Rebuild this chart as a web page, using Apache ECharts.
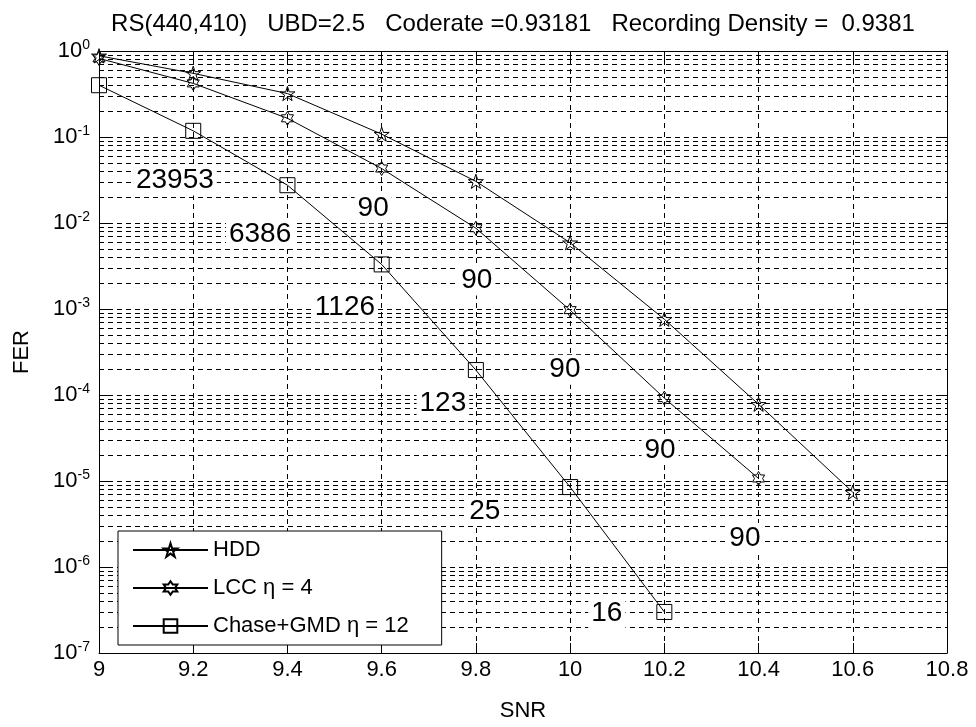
<!DOCTYPE html>
<html>
<head>
<meta charset="utf-8">
<script src="https://cdn.jsdelivr.net/npm/echarts@6/dist/echarts.min.js"></script>
<style>
html,body{margin:0;padding:0;background:#fff;}
#chart{width:976px;height:727px;}
</style>
</head>
<body>
<div id="chart"></div>
<script>
// ---- data ----
const snr = [9, 9.2, 9.4, 9.6, 9.8, 10, 10.2, 10.4, 10.6];
const ferHDD = [0.88, 0.55, 0.32, 0.108, 0.0305, 0.0059, 7.6e-4, 7.8e-5, 7.4e-6];
const ferLCC = [0.82, 0.42, 0.165, 0.043, 0.0087, 9.7e-4, 9.2e-5, 1.07e-5];
const ferChase = [0.40, 0.118, 0.0275, 0.0033, 1.95e-4, 8.5e-6, 3.0e-7];
const seriesNames = ['HDD', 'LCC \u03b7 = 4', 'Chase+GMD \u03b7 = 12'];
const noteText = ['23953', '6386', '1126', '123', '25', '16', '90', '90', '90', '90', '90'];
const noteX = [9.161, 9.342, 9.522, 9.730, 9.819, 10.078, 9.582, 9.802, 9.989, 10.191, 10.371];
const noteY = [0.0311, 0.00743, 0.00105, 8.0e-5, 4.5e-6, 2.92e-7, 0.0148, 0.00214, 1.97e-4, 2.3e-5, 2.18e-6];
const xMin = 9, xMax = 10.8, xStep = 0.2;
const yMin = 1e-7, yMax = 1;
const titleText = 'RS(440,410)   UBD=2.5   Coderate =0.93181   Recording Density =  0.9381';

// minor gridline positions (2..9 x 10^k)
const minorVals = [];
for (let k = -7; k < 0; k++) {
  for (let m = 2; m <= 9; m++) minorVals.push(m * Math.pow(10, k));
}

function starPath(n, rIn) {
  let d = '';
  for (let i = 0; i < 2 * n; i++) {
    const r = i % 2 ? rIn : 1;
    const a = -Math.PI / 2 + i * Math.PI / n;
    d += (i ? 'L' : 'M') + (r * Math.cos(a)).toFixed(4) + ' ' + (r * Math.sin(a)).toFixed(4);
  }
  return 'path://' + d + 'Z';
}
const pentagram = starPath(5, 0.382);
const hexagram = starPath(6, 0.577);

const FONT = '"Liberation Sans", Arial, sans-serif';
const chart = echarts.init(document.getElementById('chart'), null, {renderer: 'canvas'});

const hollow = {color: 'rgba(255,255,255,0)', borderColor: '#000', borderWidth: 1};
const lineSt = {color: '#000', width: 1};

function mk(name, ys, sym, size) {
  return {
    name: name, type: 'line', z: 3,
    data: ys.map((v, i) => [snr[i], v]),
    symbol: sym, symbolSize: size, symbolKeepAspect: true, showSymbol: true,
    itemStyle: hollow, lineStyle: lineSt, emphasis: {disabled: true}
  };
}

const option = {
  animation: false,
  backgroundColor: '#fff',
  textStyle: {fontFamily: FONT},
  graphic: [{
    type: 'text', x: 513, y: 24, z: 10,
    style: {text: titleText, font: '24px ' + FONT, fill: '#000', textAlign: 'center', textVerticalAlign: 'middle'}
  }],
  grid: {left: 99, right: 29, top: 51, bottom: 68},
  legend: {
    orient: 'vertical', left: 118, top: 531,
    data: seriesNames,
    itemWidth: 75, itemHeight: 17, itemGap: 16,
    padding: [8, 33, 8, 14],
    borderColor: '#000', borderWidth: 1, backgroundColor: '#fff',
    textStyle: {fontSize: 22, color: '#000', fontFamily: FONT, lineHeight: 22},
    selectedMode: false, z: 6
  },
  xAxis: [{
    type: 'value', min: xMin, max: xMax, interval: xStep, position: 'bottom',
    name: 'SNR', nameLocation: 'middle', nameGap: 47,
    nameTextStyle: {fontSize: 22, color: '#000', fontFamily: FONT},
    axisLine: {lineStyle: {color: '#000', width: 1}},
    axisTick: {inside: true, length: 10, lineStyle: {color: '#000'}},
    axisLabel: {fontSize: 22, color: '#000', margin: 6, fontFamily: FONT},
    splitLine: {show: true, lineStyle: {color: '#000', type: [5, 4], width: 1}}
  }, {
    type: 'value', min: xMin, max: xMax, interval: xStep, position: 'top',
    axisLine: {show: true, lineStyle: {color: '#000', width: 1}},
    axisTick: {show: true, inside: true, length: 10, lineStyle: {color: '#000'}},
    axisLabel: {show: false}, splitLine: {show: false}
  }],
  yAxis: [{
    type: 'log', logBase: 10, min: yMin, max: yMax, position: 'left',
    name: 'FER', nameLocation: 'middle', nameGap: 66, nameRotate: 90,
    nameTextStyle: {fontSize: 22, color: '#000', fontFamily: FONT},
    axisLine: {show: true, lineStyle: {color: '#000', width: 1}},
    axisTick: {show: true, inside: true, length: 10, lineStyle: {color: '#000'}},
    axisLabel: {
      margin: 9, color: '#000',
      formatter: function (v) { return '{b|10}{s|' + Math.round(Math.log10(v)) + '}'; },
      rich: {
        b: {fontSize: 22, lineHeight: 26, fontFamily: FONT, color: '#000'},
        s: {fontSize: 14, lineHeight: 14, verticalAlign: 'top', fontFamily: FONT, color: '#000'}
      }
    },
    splitLine: {show: true, lineStyle: {color: '#000', type: [5, 4], width: 1}}
  }, {
    type: 'log', logBase: 10, min: yMin, max: yMax, position: 'right',
    axisLine: {show: true, lineStyle: {color: '#000', width: 1}},
    axisTick: {show: true, inside: true, length: 10, lineStyle: {color: '#000'}},
    axisLabel: {show: false}, splitLine: {show: false}
  }],
  series: [
    {
      name: 'minorgrid', type: 'custom', z: 1, silent: true,
      xAxisIndex: 0, yAxisIndex: 0,
      data: minorVals.map(v => [xMin, v]),
      encode: {x: 0, y: 1},
      renderItem: function (params, api) {
        const v = api.value(1);
        const p1 = api.coord([xMin, v]);
        const p2 = api.coord([xMax, v]);
        const y = Math.round(p1[1]) + 0.5;
        return {
          type: 'line', silent: true,
          shape: {x1: p1[0], y1: y, x2: p2[0], y2: y},
          style: {stroke: '#000', lineWidth: 1, lineDash: [5, 4]}
        };
      }
    },
    {
      name: 'notes', type: 'scatter', z: 2, silent: true,
      data: noteX.map((x, i) => [x, noteY[i]]),
      symbolSize: 0,
      itemStyle: {opacity: 1},
      label: {
        show: true, position: 'inside', opacity: 1,
        formatter: function (p) { return noteText[p.dataIndex]; },
        fontSize: 28, color: '#000', fontFamily: FONT,
        backgroundColor: '#fff', padding: [1, 3]
      }
    },
    mk(seriesNames[0], ferHDD, pentagram, 15),
    mk(seriesNames[1], ferLCC, hexagram, 14),
    mk(seriesNames[2], ferChase, 'rect', 15)
  ]
};
chart.setOption(option);
</script>
</body>
</html>
